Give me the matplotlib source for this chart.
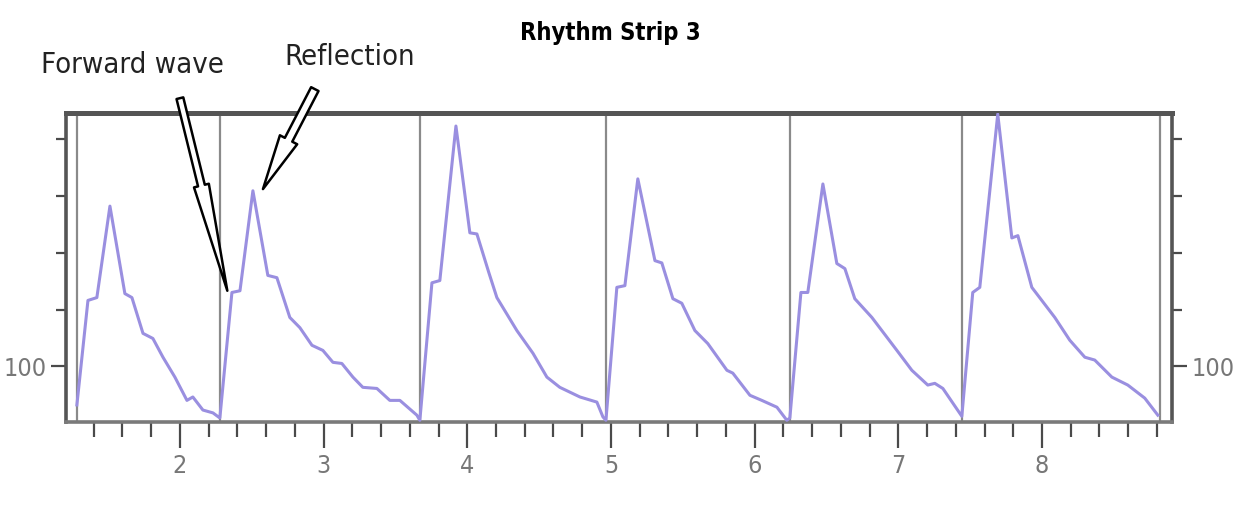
import matplotlib.pyplot as plt
from matplotlib.ticker import MultipleLocator, FixedLocator

plt.rcParams['font.family'] = ['DejaVu Sans']
plt.rcParams['font.stretch'] = 'condensed'

# pressure trace (time in s, pressure)
time_s = [1.283, 1.360, 1.422, 1.513, 1.617, 1.666, 1.743, 1.812, 1.882, 1.965, 2.049, 2.090, 2.160, 2.230, 2.278,
          2.362, 2.418, 2.508, 2.612, 2.675, 2.765, 2.835, 2.919, 2.995, 3.065, 3.127, 3.204, 3.273, 3.371, 3.461, 3.531, 3.649,
          3.670, 3.754, 3.809, 3.921, 4.018, 4.067, 4.150, 4.206, 4.345, 4.457, 4.554, 4.644, 4.784, 4.902, 4.944,
          4.965, 5.041, 5.097, 5.187, 5.306, 5.354, 5.431, 5.493, 5.584, 5.674, 5.807, 5.848, 5.967, 6.050, 6.155, 6.224,
          6.245, 6.322, 6.370, 6.475, 6.572, 6.628, 6.697, 6.816, 6.990, 7.094, 7.205, 7.254, 7.310, 7.442,
          7.518, 7.567, 7.692, 7.790, 7.832, 7.929, 8.089, 8.193, 8.298, 8.367, 8.486, 8.597, 8.715, 8.806]
pressure = [93.2, 111.6, 112.1, 128.2, 112.8, 112.1, 105.8, 104.9, 101.6, 98.1, 94.0, 94.6, 92.3, 91.8, 90.9,
            113.0, 113.3, 130.9, 116.0, 115.6, 108.6, 106.8, 103.7, 102.8, 100.7, 100.5, 98.1, 96.3, 96.1, 94.0, 94.0, 91.4,
            90.5, 114.7, 115.1, 142.3, 123.5, 123.3, 116.5, 112.1, 106.3, 102.3, 98.1, 96.3, 94.6, 93.7, 91.1,
            90.5, 113.9, 114.2, 133.0, 118.6, 118.2, 111.9, 111.1, 106.3, 104.0, 99.3, 98.8, 94.9, 94.0, 92.8, 90.5,
            90.9, 113.0, 113.0, 132.1, 118.1, 117.2, 111.9, 108.6, 102.8, 99.3, 96.7, 97.0, 96.1, 91.2,
            113.0, 113.9, 144.4, 122.6, 123.0, 113.9, 108.6, 104.6, 101.6, 101.1, 98.1, 96.7, 94.4, 91.4]

beat_starts = [1.283, 2.278, 3.670, 4.965, 6.245, 7.442, 8.820]

x_major = [2, 3, 4, 5, 6, 7, 8]
x_labels = ['2', '3', '4', '5', '6', '7', '8']
y_major = [100]
y_minor = [110, 120, 130, 140]

# annotation points (tip, tail) in data units
forward_tip = (2.33, 113.3)
forward_tail = (2.00, 147.2)
reflect_tip = (2.578, 131.2)
reflect_tail = (2.939, 148.8)

fig = plt.figure(figsize=(12.4, 5.17), dpi=100)
ax = fig.add_axes([0.0532, 0.1838, 0.892, 0.5977])

for b in beat_starts:
    ax.axvline(b, color='#8a8a8a', lw=1.6, zorder=1)

ax.plot(time_s, pressure, color='#9a8fe0', lw=2.2, zorder=3, solid_joinstyle='round')

ax.set_xlim(1.207, 8.905)
ax.set_ylim(90.2, 144.6)

ax.xaxis.set_major_locator(FixedLocator(x_major))
ax.set_xticklabels(x_labels)
ax.xaxis.set_minor_locator(MultipleLocator(0.2))
ax.yaxis.set_major_locator(FixedLocator(y_major))
ax.yaxis.set_minor_locator(FixedLocator(y_minor))

ax.tick_params(axis='both', which='both', direction='out', color='#4a4a4a', width=1.6,
               labelcolor='#777777', labelsize=18)
ax.tick_params(axis='x', which='major', length=19, pad=4)
ax.tick_params(axis='x', which='minor', length=11)
ax.tick_params(axis='y', which='major', length=11, pad=3, left=True, right=True,
               labelleft=True, labelright=True)
ax.tick_params(axis='y', which='minor', length=7, left=True, right=True)

for side in ['left', 'right', 'top']:
    ax.spines[side].set_color('#555555')
    ax.spines[side].set_linewidth(2.6)
ax.spines['top'].set_linewidth(3.6)
ax.spines['bottom'].set_color('#7a7a7a')
ax.spines['bottom'].set_linewidth(2.6)

arrow_kw = dict(facecolor='white', edgecolor='black', lw=1.8)
ax.annotate('', xy=forward_tip, xytext=forward_tail, annotation_clip=False,
            arrowprops=dict(arrowstyle='simple,head_length=78,head_width=11,tail_width=5',
                            mutation_scale=1, shrinkA=0, shrinkB=0, **arrow_kw), zorder=5)
ax.annotate('', xy=reflect_tip, xytext=reflect_tail, annotation_clip=False,
            arrowprops=dict(arrowstyle='simple,head_length=40,head_width=14,tail_width=6',
                            mutation_scale=1, shrinkA=0, shrinkB=0, **arrow_kw), zorder=5)

fig.text(0.107, 0.858, 'Forward wave', ha='center', va='baseline', fontsize=21, color='#222222')
fig.text(0.282, 0.874, 'Reflection', ha='center', va='baseline', fontsize=21, color='#222222')
fig.text(0.492, 0.923, 'Rhythm Strip 3', ha='center', va='baseline', fontsize=17,
         fontweight='bold', color='black')

fig.savefig('out.png', dpi=100, facecolor='white')
